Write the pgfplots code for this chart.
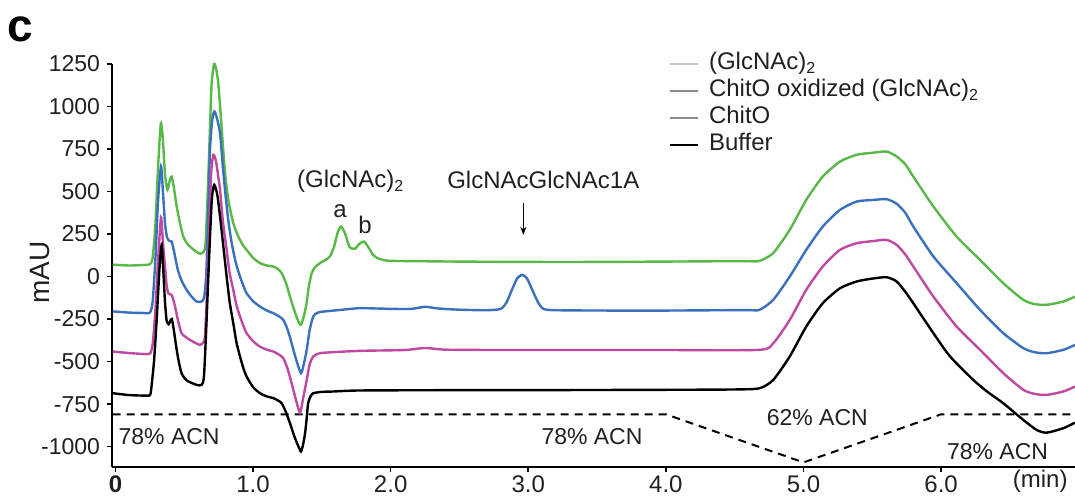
\documentclass[border=0pt]{standalone}
\usepackage{fontspec}
\setmainfont{Liberation Sans}
\usepackage{pgfplots}
\pgfplotsset{compat=1.18}
\usetikzlibrary{calc,arrows.meta}

\definecolor{cgreen}{RGB}{88,184,72}
\definecolor{cblue}{RGB}{58,112,190}
\definecolor{cmag}{RGB}{192,72,160}
\definecolor{lgA}{RGB}{200,200,200}
\definecolor{lgB}{RGB}{140,140,140}
\definecolor{txt}{RGB}{35,31,32}

\begin{document}
\begin{tikzpicture}
\begin{axis}[
  width=481.35pt, height=201.5pt, scale only axis,
  xmin=-0.023, xmax=6.973, ymin=-1120, ymax=1250,
  axis x line=bottom, axis y line=left,
  axis line style={-, line width=1pt, black},
  tick align=outside, major tick length=2.6pt,
  tick style={line width=0.8pt, black},
  xtick={0,1,2,3,4,5,6},
  xticklabels={\textbf{0},1.0,2.0,3.0,4.0,5.0,6.0},
  extra x ticks={6.72}, extra x tick labels={(min)},
  extra x tick style={major tick length=0pt},
  ytick={-1000,-750,-500,-250,0,250,500,750,1000,1250},
  yticklabels={-1000,-750,-500,-250,0,250,500,750,1000,1250},
  xticklabel style={font=\fontsize{12}{14}\selectfont, text=txt, inner sep=2pt, yshift=0.5pt},
  yticklabel style={font=\fontsize{11.5}{13}\selectfont, text=txt},
  clip=false,
  legend style={draw=none, fill=none, at={(rel axis cs:0.578,1.035)}, anchor=north west,
    inner sep=0pt, font=\fontsize{12}{14}\selectfont, text=txt,
    nodes={text height=9pt, text depth=3pt, inner sep=0.75pt}},
  legend cell align=left,
  legend image code/.code={\draw[#1] (0pt,0pt) -- (14pt,0pt); \path (18pt,0pt);},
]
\addlegendimage{color=lgA, line width=1.2pt}
\addlegendentry{(GlcNAc)\textsubscript{2}}
\addlegendimage{color=lgB, line width=1.2pt}
\addlegendentry{ChitO oxidized (GlcNAc)\textsubscript{2}}
\addlegendimage{color=lgB, line width=1.2pt}
\addlegendentry{ChitO}
\addlegendimage{color=black, line width=1.2pt}
\addlegendentry{Buffer}

% gradient
\addplot[forget plot, black, line width=1pt, dash pattern=on 4pt off 3pt] coordinates {
(-0.02,-810) (4.0,-810) (5.0,-1093) (6.0,-810) (6.973,-810)};

% (GlcNAc)2
\addplot[forget plot, cgreen, line width=1.2pt, smooth, tension=0.4] coordinates {
(-0.02,70) (0.1,65) (0.2,68) (0.25,72) (0.27,110) (0.29,300) (0.31,650) (0.33,902)
(0.345,800) (0.36,600) (0.378,510) (0.393,560) (0.408,588) (0.425,520) (0.445,412)
(0.47,310) (0.493,235) (0.52,195) (0.554,167) (0.59,145) (0.614,134) (0.64,145)
(0.655,200) (0.673,549) (0.69,950) (0.699,1138) (0.716,1250) (0.732,1220) (0.747,1138)
(0.765,950) (0.783,745) (0.8,580) (0.82,451) (0.84,370) (0.856,314) (0.88,260)
(0.904,216) (0.93,180) (0.953,157) (1.0,110) (1.05,79) (1.1,65) (1.147,59) (1.18,45)
(1.208,20) (1.24,-40) (1.268,-118) (1.3,-200) (1.33,-265) (1.348,-284) (1.37,-230)
(1.389,-156) (1.405,-60) (1.426,20) (1.45,55) (1.486,79) (1.53,100) (1.56,120)
(1.59,180) (1.615,260) (1.639,294) (1.665,260) (1.7,175) (1.72,165) (1.741,163)
(1.77,190) (1.806,206) (1.84,170) (1.87,130) (1.9,110) (1.95,97) (2.02,92) (2.5,88)
(3.0,86) (3.5,86) (4.0,88) (4.4,90) (4.6,90) (4.68,92) (4.78,138) (4.9,275)
(5.02,451) (5.14,588) (5.265,676) (5.386,716) (5.5,728) (5.604,735) (5.677,706)
(5.74,660) (5.798,588) (5.944,412) (6.113,235) (6.283,98) (6.452,-39) (6.597,-137)
(6.68,-162) (6.767,-166) (6.888,-147) (6.973,-118)};

% ChitO oxidized (GlcNAc)2
\addplot[forget plot, cblue, line width=1.2pt, smooth, tension=0.4] coordinates {
(-0.02,-205) (0.1,-212) (0.2,-214) (0.25,-212) (0.27,-150) (0.29,100) (0.31,450)
(0.331,647) (0.345,500) (0.36,314) (0.375,230) (0.392,210) (0.408,206) (0.42,170)
(0.433,118) (0.45,50) (0.469,0) (0.49,-40) (0.517,-78) (0.55,-115) (0.59,-147)
(0.626,-147) (0.645,-120) (0.66,20) (0.675,400) (0.687,745) (0.703,920) (0.718,971)
(0.735,940) (0.76,843) (0.78,650) (0.796,510) (0.82,330) (0.845,196) (0.875,80)
(0.905,0) (0.93,-55) (0.953,-98) (1.0,-145) (1.05,-176) (1.1,-200) (1.147,-215)
(1.19,-235) (1.22,-255) (1.25,-310) (1.28,-392) (1.31,-480) (1.348,-568) (1.37,-510)
(1.39,-431) (1.41,-320) (1.437,-235) (1.47,-212) (1.51,-206) (1.65,-195) (1.777,-186)
(2.0,-190) (2.15,-190) (2.25,-178) (2.35,-188) (2.5,-195) (2.7,-198) (2.8,-190)
(2.843,-150) (2.88,-80) (2.92,-10) (2.956,10) (2.99,-10) (3.03,-80) (3.07,-150)
(3.11,-190) (3.2,-198) (3.6,-200) (4.0,-200) (4.4,-198) (4.6,-197) (4.68,-196)
(4.78,-137) (4.9,0) (5.02,157) (5.14,294) (5.265,392) (5.386,441) (5.5,450)
(5.604,455) (5.677,428) (5.74,375) (5.798,294) (5.944,118) (6.113,-39) (6.283,-196)
(6.452,-333) (6.597,-421) (6.68,-445) (6.767,-451) (6.888,-431) (6.973,-402)};

% ChitO
\addplot[forget plot, cmag, line width=1.2pt, smooth, tension=0.4] coordinates {
(-0.02,-441) (0.1,-450) (0.2,-455) (0.25,-453) (0.27,-400) (0.29,-200) (0.31,100)
(0.331,347) (0.345,200) (0.36,59) (0.372,-50) (0.384,-98) (0.408,-108) (0.42,-135)
(0.433,-176) (0.455,-260) (0.48,-333) (0.51,-355) (0.54,-372) (0.58,-390) (0.614,-402)
(0.635,-390) (0.65,-353) (0.665,-100) (0.68,250) (0.695,600) (0.711,716) (0.73,680)
(0.745,600) (0.76,510) (0.78,330) (0.808,157) (0.83,20) (0.856,-78) (0.88,-170)
(0.905,-235) (0.93,-290) (0.953,-333) (1.0,-380) (1.05,-412) (1.1,-430) (1.147,-441)
(1.19,-460) (1.22,-480) (1.25,-540) (1.28,-627) (1.31,-720) (1.341,-800) (1.365,-710)
(1.39,-608) (1.41,-520) (1.437,-470) (1.48,-452) (1.535,-447) (1.777,-437) (2.1,-432)
(2.25,-420) (2.4,-430) (2.8,-432) (3.5,-432) (4.0,-432) (4.68,-431) (4.78,-392)
(4.9,-255) (5.02,-78) (5.14,59) (5.265,157) (5.386,196) (5.5,208) (5.604,216)
(5.677,186) (5.74,130) (5.798,59) (5.944,-118) (6.113,-294) (6.283,-431) (6.452,-568)
(6.597,-666) (6.68,-690) (6.767,-696) (6.888,-676) (6.973,-647)};

% Buffer
\addplot[forget plot, black, line width=1.2pt, smooth, tension=0.4] coordinates {
(-0.02,-686) (0.1,-697) (0.2,-700) (0.25,-698) (0.26,-660) (0.28,-500) (0.30,-250)
(0.32,50) (0.336,186) (0.35,0) (0.36,-150) (0.372,-260) (0.387,-280) (0.398,-262)
(0.41,-250) (0.425,-320) (0.445,-431) (0.46,-500) (0.48,-568) (0.505,-600) (0.53,-617)
(0.59,-637) (0.626,-637) (0.643,-588) (0.66,-300) (0.68,100) (0.7,450) (0.718,539)
(0.74,480) (0.76,353) (0.785,170) (0.808,0) (0.83,-150) (0.856,-274) (0.88,-390)
(0.905,-470) (0.93,-540) (0.953,-588) (1.0,-650) (1.05,-686) (1.1,-705) (1.147,-715)
(1.18,-728) (1.208,-745) (1.24,-800) (1.268,-862) (1.3,-940) (1.33,-1000) (1.348,-1029)
(1.363,-990) (1.378,-921) (1.39,-830) (1.4,-745) (1.42,-700) (1.437,-686) (1.5,-678)
(1.583,-676) (1.777,-670) (2.5,-668) (3.0,-668) (4.0,-666) (4.5,-664) (4.68,-657)
(4.78,-608) (4.9,-470) (5.02,-294) (5.14,-157) (5.265,-69) (5.386,-29) (5.5,-12)
(5.604,-4) (5.677,-29) (5.74,-90) (5.798,-157) (5.944,-333) (6.065,-470) (6.234,-608)
(6.34,-680) (6.452,-745) (6.597,-843) (6.694,-902) (6.767,-918) (6.888,-892) (6.973,-859)};

\begin{scope}[text=txt]
\node[anchor=west, inner sep=0pt, font=\fontsize{11.5}{13}\selectfont] at (axis cs:0.02,-941) {78\% ACN};
\node[font=\fontsize{11.5}{13}\selectfont] at (axis cs:3.463,-943) {78\% ACN};
\node[font=\fontsize{11.5}{13}\selectfont] at (axis cs:5.10,-831) {62\% ACN};
\node[font=\fontsize{11.5}{13}\selectfont] at (axis cs:6.41,-1029) {78\% ACN};
\node[anchor=west, inner sep=0pt, font=\fontsize{12}{14}\selectfont] at (axis cs:1.317,559) {(GlcNAc)\textsubscript{2}};
\node[font=\fontsize{12}{14}\selectfont] at (axis cs:1.632,382) {a};
\node[font=\fontsize{12}{14}\selectfont] at (axis cs:1.813,304) {b};
\node[font=\fontsize{12}{14}\selectfont] at (axis cs:3.109,569) {GlcNAcGlcNAc1A};
\draw[-{Stealth[length=4pt,width=3pt]}, line width=0.7pt, black] (axis cs:2.964,432) -- (axis cs:2.964,245);
\node[font=\bfseries\fontsize{23}{25}\selectfont, text=black] at (rel axis cs:-0.0959,1.087) {c};
\node[rotate=90, font=\fontsize{14}{16}\selectfont] at (rel axis cs:-0.0751,0.483) {mAU};
\end{scope}

\coordinate (bl) at (rel axis cs:0,0);
\coordinate (tr) at (rel axis cs:1,1);
\end{axis}
\pgfresetboundingbox
\path ($(bl)+(-56.15pt,-15.5pt)$) rectangle ($(tr)+(0pt,32pt)$);
\end{tikzpicture}
\end{document}
